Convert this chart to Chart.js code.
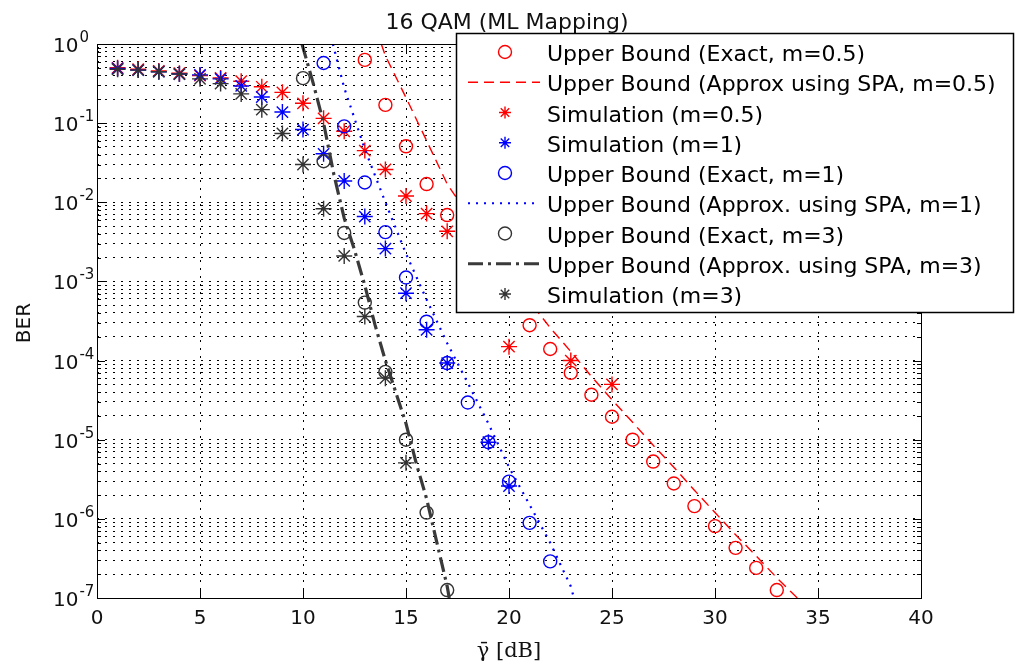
<!DOCTYPE html>
<html>
<head>
<meta charset="utf-8">
<script src="https://cdn.jsdelivr.net/npm/chart.js@4.4.1/dist/chart.umd.min.js"></script>
<style>
  html, body { margin: 0; padding: 0; background: #fff; }
  #wrap { width: 1016px; height: 664px; }
</style>
</head>
<body>
<div id="wrap"><canvas id="ber-chart" width="1016" height="664"></canvas></div>
<script>
// values (BER vs mean SNR in dB)
var gammaExactHalf = [13, 14, 15, 16, 17, 18, 19, 20, 21, 22, 23, 24, 25, 26, 27, 28, 29, 30, 31, 32, 33];
var berExactHalf = [0.63, 0.17, 0.051, 0.017, 0.0069, 0.0032, 0.0014, 6.3e-4, 2.8e-4, 1.4e-4, 7e-5, 3.7e-5,
                    1.95e-5, 1.0e-5, 5.3e-6, 2.8e-6, 1.45e-6, 8.1e-7, 4.3e-7, 2.4e-7, 1.26e-7];

var gammaSpaHalf = [13.8, 14, 15, 16, 17, 18, 19, 20, 21, 22, 23, 24, 25, 26, 27, 28, 29, 30, 31, 32, 33, 34, 34.6];
var berSpaHalf = [1.0, 0.71, 0.21, 0.06, 0.017, 0.0071, 0.0028, 0.0012, 5.6e-4, 2.6e-4, 1.3e-4, 6.3e-5, 3.2e-5,
                  1.66e-5, 8.5e-6, 4.5e-6, 2.3e-6, 1.2e-6, 6.3e-7, 3.4e-7, 1.8e-7, 1.0e-7, 7.1e-8];

var gammaSimHalf = [1, 2, 3, 4, 5, 6, 7, 8, 9, 10, 11, 12, 13, 14, 15, 16, 17, 20, 23, 25];
var berSimHalf = [0.50, 0.48, 0.457, 0.427, 0.398, 0.372, 0.339, 0.288, 0.245, 0.178, 0.115, 0.079, 0.045,
                  0.026, 0.012, 0.0072, 0.0043, 1.5e-4, 1.0e-4, 5.0e-5];

var gammaSimOne = [1, 2, 3, 4, 5, 6, 7, 8, 9, 10, 11, 12, 13, 14, 15, 16, 17, 19, 20];
var berSimOne = [0.49, 0.468, 0.447, 0.417, 0.407, 0.363, 0.295, 0.214, 0.138, 0.083, 0.041, 0.0186, 0.0066,
                 0.0026, 7.1e-4, 2.45e-4, 9.3e-5, 9.3e-6, 2.6e-6];

var gammaExactOne = [11, 12, 13, 14, 15, 16, 17, 18, 19, 20, 21, 22];
var berExactOne = [0.575, 0.091, 0.0178, 0.0042, 0.00112, 3.1e-4, 9.3e-5, 2.95e-5, 9.3e-6, 2.95e-6, 8.9e-7, 2.9e-7];

var gammaSpaOne = [11.45, 12, 13, 14, 15, 16, 17, 18, 19, 20, 21, 22, 23, 23.2];
var berSpaOne = [1.0, 0.28, 0.047, 0.01, 0.00224, 5.9e-4, 1.66e-4, 5.2e-5, 1.6e-5, 4.5e-6, 1.5e-6, 5e-7, 1.4e-7, 9e-8];

var gammaExactThree = [10, 11, 12, 13, 14, 15, 16, 17];
var berExactThree = [0.37, 0.033, 0.0041, 5.4e-4, 7.2e-5, 1.0e-5, 1.2e-6, 1.26e-7];

var gammaSpaThree = [9.95, 10.5, 11, 11.5, 12, 12.5, 13, 13.5, 14, 14.5, 15, 15.5, 16, 16.5, 17, 17.1];
var berSpaThree = [1.0, 0.316, 0.1, 0.0224, 0.0063, 0.0025, 8.9e-4, 2.8e-4, 1e-4, 4e-5, 1.6e-5, 5e-6, 1.8e-6,
                   5e-7, 1.4e-7, 1e-7];

var gammaSimThree = [1, 2, 3, 4, 5, 6, 7, 8, 9, 10, 11, 12, 13, 14, 15];
var berSimThree = [0.48, 0.468, 0.447, 0.417, 0.363, 0.316, 0.234, 0.148, 0.074, 0.030, 0.0083, 0.0021,
                   3.6e-4, 6.0e-5, 5.1e-6];

var xTicks = [0, 5, 10, 15, 20, 25, 30, 35, 40];
var yExponents = [0, -1, -2, -3, -4, -5, -6, -7];

var chartTitle = '16 QAM (ML Mapping)';
var xTitle = 'γ\u0304 [dB]';
var yTitle = 'BER';

var RED = '#ff0000', BLUE = '#0000ff', DARK = '#333333';

function pts(xs, ys) {
	return xs.map(function(x, i) { return { x: x, y: ys[i] }; });
}

function markers(label, xs, ys, color, style) {
	return {
		label: label, data: pts(xs, ys), showLine: false,
		pointStyle: style, pointRadius: style === 'star' ? 8 : 6.5,
		pointBorderWidth: 1.4, borderColor: color, backgroundColor: 'rgba(0,0,0,0)',
		legendRadius: style === 'star' ? 6 : 6.5
	};
}

function curve(label, xs, ys, color, width, dash) {
	return {
		label: label, data: pts(xs, ys), showLine: true, pointRadius: 0,
		borderColor: color, borderWidth: width, borderDash: dash, fill: false, tension: 0
	};
}

var datasets = [
	markers('Upper Bound (Exact, m=0.5)', gammaExactHalf, berExactHalf, RED, 'circle'),
	curve('Upper Bound (Approx using SPA, m=0.5)', gammaSpaHalf, berSpaHalf, RED, 1.4, [10, 6]),
	markers('Simulation (m=0.5)', gammaSimHalf, berSimHalf, RED, 'star'),
	markers('Simulation (m=1)', gammaSimOne, berSimOne, BLUE, 'star'),
	markers('Upper Bound (Exact, m=1)', gammaExactOne, berExactOne, BLUE, 'circle'),
	curve('Upper Bound (Approx. using SPA, m=1)', gammaSpaOne, berSpaOne, BLUE, 2.2, [2, 6]),
	markers('Upper Bound (Exact, m=3)', gammaExactThree, berExactThree, DARK, 'circle'),
	curve('Upper Bound (Approx. using SPA, m=3)', gammaSpaThree, berSpaThree, '#3a3a3a', 3.2, [15, 5, 3, 5]),
	markers('Simulation (m=3)', gammaSimThree, berSimThree, DARK, 'star')
];
// later series on top, as in the original plot order
datasets.forEach(function(d, i) { d.order = datasets.length - i; });

var yGridValues = [];
for (var e = -7; e < 0; e++) {
	for (var m = 1; m <= 9; m++) yGridValues.push(m * Math.pow(10, e));
}
yGridValues.push(1);

function segment(ctx, x1, y1, x2, y2) {
	ctx.beginPath();
	ctx.moveTo(x1, y1);
	ctx.lineTo(x2, y2);
	ctx.stroke();
}

var decorations = {
	id: 'decorations',
	beforeDraw: function(chart) {
		var ctx = chart.ctx;
		ctx.save();
		ctx.fillStyle = '#fff';
		ctx.fillRect(0, 0, chart.width, chart.height);
		ctx.restore();
	},
	afterDraw: function(chart) {
		var ctx = chart.ctx, a = chart.chartArea, xs = chart.scales.x, ys = chart.scales.y;
		ctx.save();
		ctx.strokeStyle = '#000';
		ctx.lineWidth = 1;
		ctx.setLineDash([]);

		// inward ticks
		xTicks.forEach(function(v) {
			var px = Math.round(xs.getPixelForValue(v)) + 0.5;
			segment(ctx, px, a.bottom, px, a.bottom - 8);
			segment(ctx, px, a.top, px, a.top + 8);
		});
		yGridValues.forEach(function(v) {
			var py = Math.round(ys.getPixelForValue(v)) + 0.5;
			var major = Math.abs(Math.log10(v) - Math.round(Math.log10(v))) < 1e-9;
			var len = major ? 8 : 4;
			segment(ctx, a.left, py, a.left + len, py);
			segment(ctx, a.right, py, a.right - len, py);
		});
		ctx.strokeRect(Math.round(a.left) + 0.5, Math.round(a.top) + 0.5,
			Math.round(a.right - a.left), Math.round(a.bottom - a.top));

		// tick labels
		ctx.fillStyle = '#111';
		ctx.font = '20px "DejaVu Sans"';
		ctx.textAlign = 'center';
		ctx.textBaseline = 'alphabetic';
		xTicks.forEach(function(v) {
			ctx.fillText(String(v), xs.getPixelForValue(v), a.bottom + 26);
		});
		ctx.textAlign = 'left';
		yExponents.forEach(function(p) {
			var py = ys.getPixelForValue(Math.pow(10, p));
			ctx.font = '20px "DejaVu Sans"';
			ctx.fillText('10', 53, py + 8);
			var w = ctx.measureText('10').width;
			ctx.font = '15px "DejaVu Sans"';
			ctx.fillText(p === 0 ? '0' : '-' + (-p), 53 + w + 1, py - 2);
		});

		// titles
		ctx.textAlign = 'center';
		ctx.font = '22px "DejaVu Sans"';
		ctx.fillText(chartTitle, 507, 29);
		ctx.font = '21px "DejaVu Serif"';
		ctx.fillText(xTitle, (a.left + a.right) / 2, 657);
		ctx.save();
		ctx.translate(30, 323);
		ctx.rotate(-Math.PI / 2);
		ctx.font = '20px "DejaVu Sans"';
		ctx.fillText(yTitle, 0, 0);
		ctx.restore();

		// legend box
		var box = { left: 456, top: 33, right: 1013, bottom: 312 };
		ctx.fillStyle = '#fff';
		ctx.fillRect(box.left, box.top, box.right - box.left, box.bottom - box.top);
		ctx.lineWidth = 1.5;
		ctx.strokeStyle = '#000';
		ctx.strokeRect(box.left + 0.5, box.top + 0.5, box.right - box.left, box.bottom - box.top);

		chart.data.datasets.forEach(function(ds, i) {
			var base = 61 + 30.25 * i;
			var cy = base - 9;
			ctx.save();
			ctx.strokeStyle = ds.borderColor;
			if (ds.showLine) {
				ctx.lineWidth = ds.borderWidth;
				ctx.setLineDash(ds.borderDash || []);
				segment(ctx, 468, cy, 540, cy);
			} else {
				ctx.setLineDash([]);
				ctx.lineWidth = ds.pointBorderWidth;
				ctx.fillStyle = 'rgba(0,0,0,0)';
				Chart.helpers.drawPoint(ctx, {
					pointStyle: ds.pointStyle, radius: ds.legendRadius,
					rotation: 0, borderWidth: ds.pointBorderWidth
				}, 505, cy);
			}
			ctx.restore();
			ctx.fillStyle = '#000';
			ctx.textAlign = 'left';
			ctx.font = '22px "DejaVu Sans"';
			ctx.fillText(ds.label, 547, base);
		});
		ctx.restore();
	}
};

try {
	new Chart(document.getElementById('ber-chart'), {
		type: 'scatter',
		data: { datasets: datasets },
		options: {
			responsive: false,
			animation: false,
			events: [],
			layout: { padding: { left: 0, right: 95, top: 44, bottom: 0 } },
			plugins: { legend: { display: false }, title: { display: false }, tooltip: { enabled: false } },
			scales: {
				x: {
					type: 'linear', min: 0, max: 40,
					ticks: { display: false, stepSize: 5 },
					grid: { color: '#000', lineWidth: 1, drawTicks: false },
					border: { display: false, dash: [2, 6] },
					afterFit: function(s) { s.height = 66; }
				},
				y: {
					type: 'logarithmic', min: 1e-7, max: 1,
					ticks: { display: false },
					afterBuildTicks: function(s) {
						s.ticks = yGridValues.map(function(v) { return { value: v }; });
					},
					grid: { color: '#000', lineWidth: 1, drawTicks: false },
					border: { display: false, dash: [2, 6] },
					afterFit: function(s) { s.width = 97; }
				}
			}
		},
		plugins: [decorations]
	});
} catch (e) {
	document.body.insertAdjacentText('beforeend', 'Error: ' + e.message);
}
</script>
</body>
</html>
